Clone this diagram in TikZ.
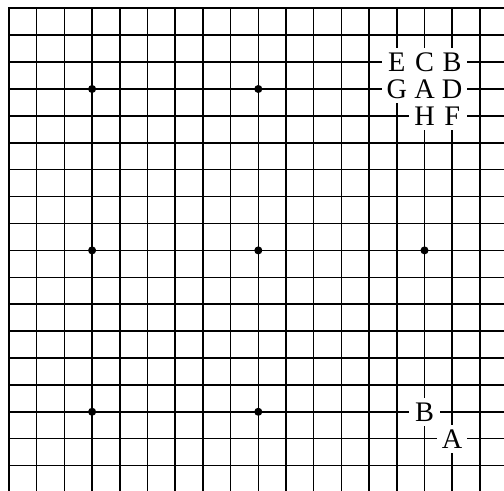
\documentclass[tikz,border=0pt]{standalone}
\usepackage{fontspec}
\setmainfont{Liberation Serif}

\begin{document}
\begin{tikzpicture}[x=1cm,y=1cm,
  gridline/.style={black,line width=0.85pt},
  edgeline/.style={black,line width=1.3pt,line join=miter},
  letter/.style={fill=white,inner sep=0pt,minimum width=0.6cm,minimum height=0.56cm,font=\fontsize{16}{18}\selectfont}]
\begin{scope}[shift={(0.0000,0.0000)},x=0.5496cm,y=-0.5337cm]
\useasboundingbox (-0.325,-0.309) rectangle (17.87,17.94);
\draw[gridline] (1,0) -- (1,17.94);
\draw[gridline] (2,0) -- (2,17.94);
\draw[gridline] (3,0) -- (3,17.94);
\draw[gridline] (4,0) -- (4,17.94);
\draw[gridline] (5,0) -- (5,17.94);
\draw[gridline] (6,0) -- (6,17.94);
\draw[gridline] (7,0) -- (7,17.94);
\draw[gridline] (8,0) -- (8,17.94);
\draw[gridline] (9,0) -- (9,17.94);
\draw[gridline] (10,0) -- (10,17.94);
\draw[gridline] (11,0) -- (11,17.94);
\draw[gridline] (12,0) -- (12,17.94);
\draw[gridline] (13,0) -- (13,17.94);
\draw[gridline] (14,0) -- (14,17.94);
\draw[gridline] (15,0) -- (15,17.94);
\draw[gridline] (16,0) -- (16,17.94);
\draw[gridline] (17,0) -- (17,17.94);
\draw[gridline] (0,1) -- (17.87,1);
\draw[gridline] (0,2) -- (17.87,2);
\draw[gridline] (0,3) -- (17.87,3);
\draw[gridline] (0,4) -- (17.87,4);
\draw[gridline] (0,5) -- (17.87,5);
\draw[gridline] (0,6) -- (17.87,6);
\draw[gridline] (0,7) -- (17.87,7);
\draw[gridline] (0,8) -- (17.87,8);
\draw[gridline] (0,9) -- (17.87,9);
\draw[gridline] (0,10) -- (17.87,10);
\draw[gridline] (0,11) -- (17.87,11);
\draw[gridline] (0,12) -- (17.87,12);
\draw[gridline] (0,13) -- (17.87,13);
\draw[gridline] (0,14) -- (17.87,14);
\draw[gridline] (0,15) -- (17.87,15);
\draw[gridline] (0,16) -- (17.87,16);
\draw[gridline] (0,17) -- (17.87,17);
% board edges
\draw[edgeline] (0,17.94) -- (0,0) -- (17.87,0);
% star points
\fill (3,3) circle (0.08cm);
\fill (9,3) circle (0.08cm);
\fill (3,9) circle (0.08cm);
\fill (9,9) circle (0.08cm);
\fill (15,9) circle (0.08cm);
\fill (3,15) circle (0.08cm);
\fill (9,15) circle (0.08cm);
% upper right letters
\node[letter] (E1) at (14,2) {E};
\node[letter] (C1) at (15,2) {C};
\node[letter] (B1) at (16,2) {B};
\node[letter] (G1) at (14,3) {G};
\node[letter] (A1) at (15,3) {A};
\node[letter] (D1) at (16,3) {D};
\node[letter] (H1) at (15,4) {H};
\node[letter] (F1) at (16,4) {F};
% lower right letters
\node[letter] (B2) at (15,15) {B};
\node[letter] (A2) at (16,16) {A};
\end{scope}
\end{tikzpicture}
\end{document}
